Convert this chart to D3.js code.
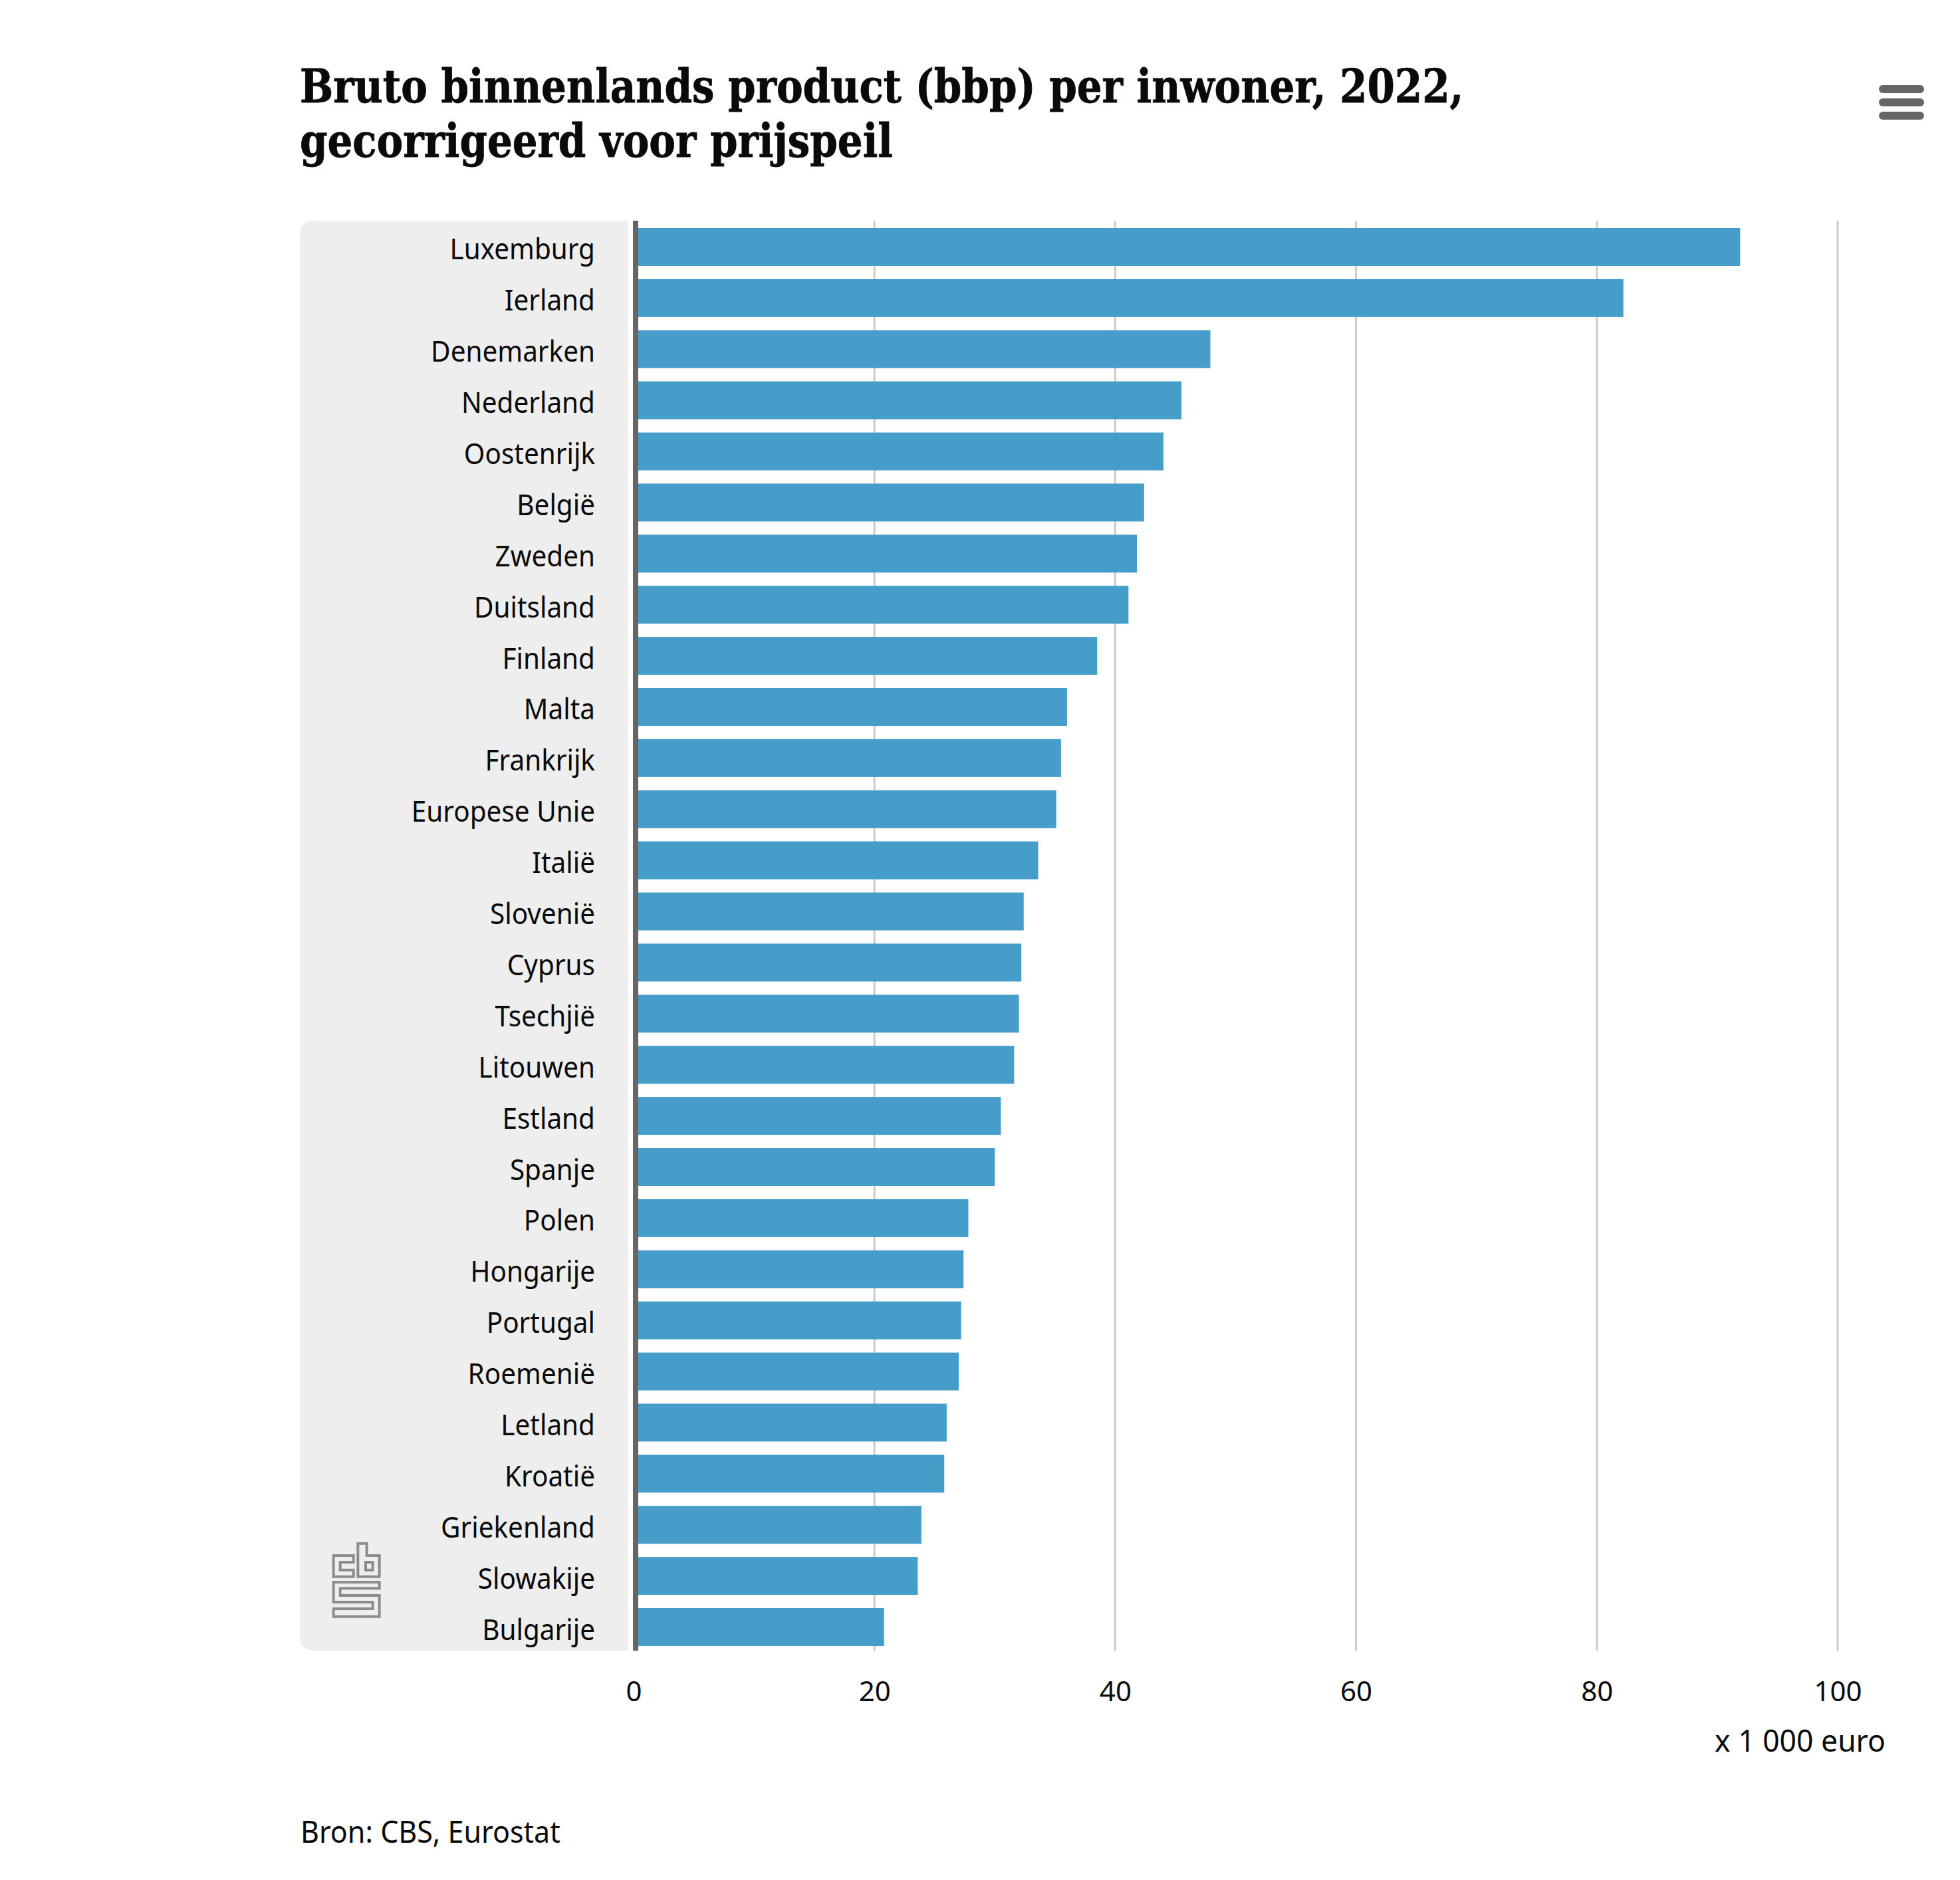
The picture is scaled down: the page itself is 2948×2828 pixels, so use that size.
<!DOCTYPE html>
<html><head><meta charset="utf-8">
<script src="https://cdn.jsdelivr.net/npm/d3@7/dist/d3.min.js"></script>
<style>html,body{margin:0;padding:0;background:#fff}svg{display:block}</style>
</head><body><div id="c"></div>
<script>
const countries = ["Luxemburg","Ierland","Denemarken","Nederland","Oostenrijk","België","Zweden","Duitsland","Finland","Malta","Frankrijk","Europese Unie","Italië","Slovenië","Cyprus","Tsechjië","Litouwen","Estland","Spanje","Polen","Hongarije","Portugal","Roemenië","Letland","Kroatië","Griekenland","Slowakije","Bulgarije"];
const values = [91.9,82.2,47.9,45.5,44.0,42.4,41.8,41.1,38.5,36.0,35.5,35.1,33.6,32.4,32.2,32.0,31.6,30.5,30.0,27.8,27.4,27.2,27.0,26.0,25.8,23.9,23.6,20.8];
const xTicks = [0,20,40,60,80,100];
const titleLines = ["Bruto binnenlands product (bbp) per inwoner, 2022,","gecorrigeerd voor prijspeil"];
const unitLabel = "x 1 000 euro";
const sourceLabel = "Bron: CBS, Eurostat";

const W=2948,H=2828;
const topY=332,bottomY=2483;
const svg=d3.select("#c").append("svg").attr("width",W).attr("height",H).attr("viewBox",`0 0 ${W} ${H}`);
const x=d3.scaleLinear().domain([0,100]).range([953,2764]);
const y=d3.scaleBand().domain(countries).range([343,2476]).paddingInner(0.259);
const labelFont="'Noto Sans',sans-serif";

// title
svg.append("g").selectAll("text").data(titleLines).join("text")
  .attr("transform",(d,i)=>`translate(451,${154+i*82}) scale(0.944,1)`)
  .attr("font-family","'DejaVu Serif',serif").attr("font-stretch","condensed").attr("font-weight",700)
  .attr("font-size",70).attr("fill","#0a0a0a").attr("stroke","#0a0a0a").attr("stroke-width",0.8).text(d=>d);

// menu icon
svg.append("g").selectAll("rect").data([0,1,2]).join("rect")
  .attr("x",2826).attr("y",i=>128+i*20).attr("width",68).attr("height",12).attr("rx",6).attr("fill","#666");

// label panel (rounded on the left only)
const L=451,R=945,r=22;
svg.append("path").attr("fill","#eeeeee")
  .attr("d",`M${R},${topY}H${L+r}Q${L},${topY} ${L},${topY+r}V${bottomY-r}Q${L},${bottomY} ${L+r},${bottomY}H${R}Z`);

// grid
svg.append("g").selectAll("line").data(xTicks.slice(1)).join("line")
  .attr("x1",d=>x(d)).attr("x2",d=>x(d)).attr("y1",topY).attr("y2",bottomY)
  .attr("stroke","#cccccc").attr("stroke-width",3);

// bars
svg.append("g").selectAll("rect").data(countries).join("rect")
  .attr("x",x(0)).attr("y",d=>y(d)).attr("height",y.bandwidth())
  .attr("width",(d,i)=>x(values[i])-x(0)).attr("fill","#479dc9");

// zero axis
svg.append("rect").attr("x",x(0)-1).attr("y",topY).attr("width",8).attr("height",bottomY-topY).attr("fill","#666");

// y labels
svg.append("g").selectAll("text").data(countries).join("text")
  .attr("transform",d=>`translate(895,${y(d)+y.bandwidth()/2+19}) scale(0.92,1)`)
  .attr("text-anchor","end").attr("font-family",labelFont).attr("font-size",44).attr("fill","#0a0a0a").text(d=>d);

// x axis labels
const axis=svg.append("g").attr("transform",`translate(0,2559)`)
  .call(d3.axisBottom(x).tickValues(xTicks).tickSize(0).tickPadding(0));
axis.select(".domain").remove();
axis.selectAll("text").attr("dy",0).attr("y",0).attr("font-family",labelFont).attr("font-size",42).attr("fill","#0a0a0a");

svg.append("text").attr("transform",`translate(2836,2635) scale(0.967,1)`).attr("text-anchor","end")
  .attr("font-family",labelFont).attr("font-size",46).attr("fill","#0a0a0a").text(unitLabel);
svg.append("text").attr("transform",`translate(452,2772) scale(0.935,1)`)
  .attr("font-family",labelFont).attr("font-size",46).attr("fill","#0a0a0a").text(sourceLabel);

// CBS logo
const logo=["M155,120H65V215H155V185H95V150H155Z",
 "M175,65H215V120H272V215H175Z","M210,150H242V185H210Z",
 "M65,240H272V268H95V300H272V395H65V360H242V330H65Z"];
svg.append("g").attr("transform","translate(480,2300) scale(0.3333)").selectAll("path").data(logo).join("path")
  .attr("d",d=>d).attr("fill","none").attr("stroke","#8c8c8c").attr("stroke-width",12);
</script></body></html>
